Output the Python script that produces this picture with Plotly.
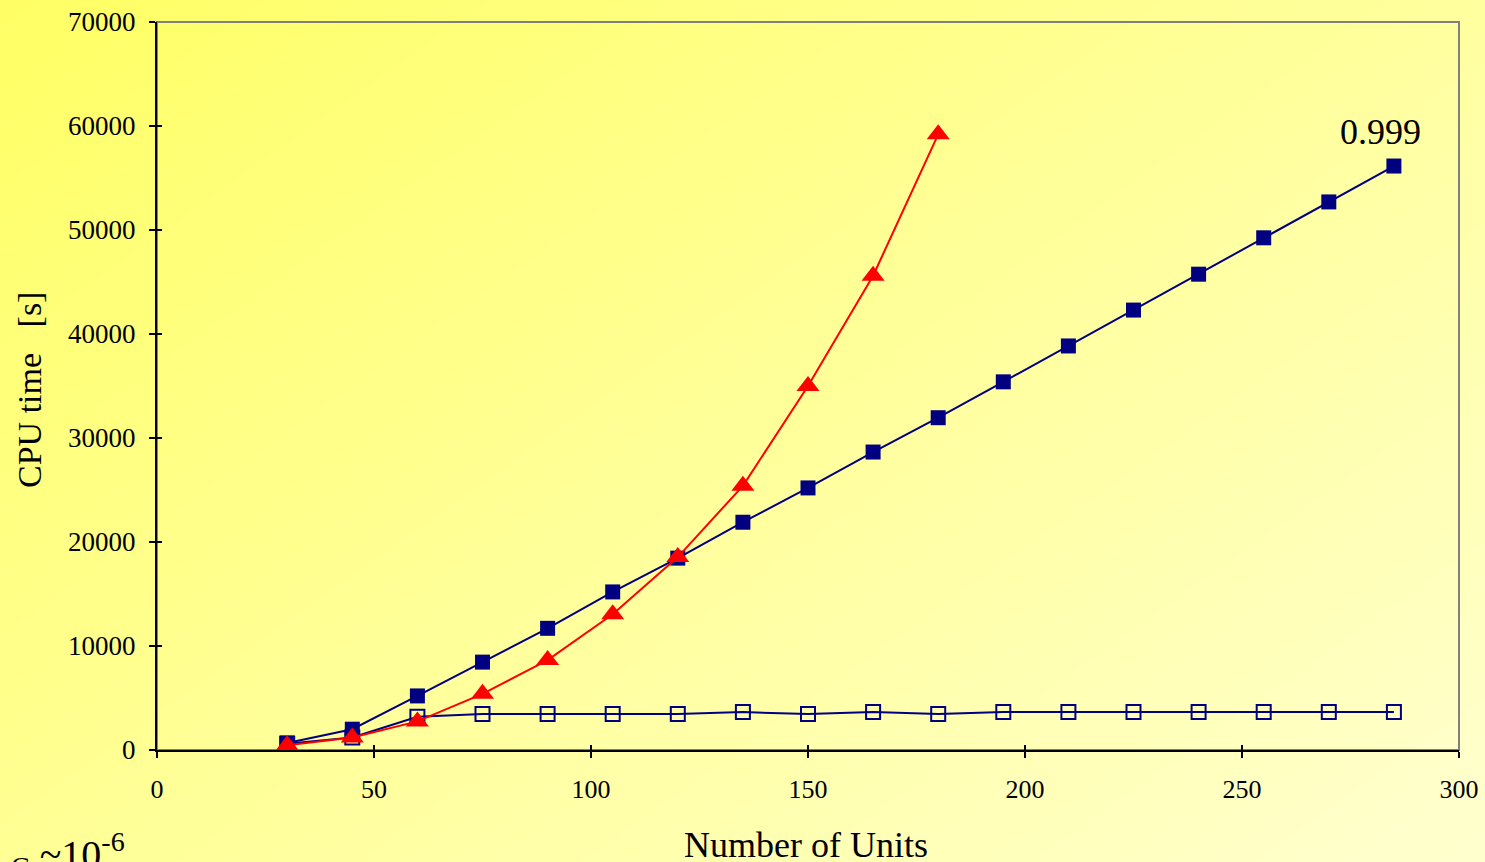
import plotly.graph_objects as go

units = [30, 45, 60, 75, 90, 105, 120, 135, 150, 165, 180, 195, 210, 225, 240, 255, 270, 285]
cpu_filled = [680, 2000, 5200, 8450, 11700, 15200, 18450, 21900, 25200, 28650, 31950, 35400, 38850, 42300, 45750, 49250, 52700, 56150]
units_tri = [30, 45, 60, 75, 90, 105, 120, 135, 150, 165, 180]
cpu_tri = [450, 1200, 2750, 5400, 8650, 13050, 18550, 25400, 35000, 45600, 59200]
cpu_open = [600, 1200, 3200, 3450, 3450, 3450, 3450, 3650, 3450, 3650, 3450, 3650, 3650, 3650, 3650, 3650, 3650, 3650]

x_ticks = [0, 50, 100, 150, 200, 250, 300]
y_ticks = [0, 10000, 20000, 30000, 40000, 50000, 60000, 70000]

label_text = "0.999"
x_title = "Number of Units"
y_title = "CPU\u00a0time\u00a0\u00a0\u00a0[s]"
note_text = "<sub>C</sub> ~10<sup>-6</sup>"

W, H = 1485, 862
L, R, T, B = 157, 1459, 22, 750
PW, PH = R - L, B - T

FONT = "Liberation Serif, Times New Roman, serif"


def to_paper(X, Y):
    return (X - L) / PW, (B - Y) / PH


# diagonal gradient background (top-left saturated -> bottom-right pale)
shapes = []
N = 60
a, b = 0.55, 0.45
c0, c1 = 100, 207


def line_pts(t):
    p = []
    for s in (-5.0, 5.0):
        Yn = (t - a * s) / b
        p.append((s * W, Yn * H))
    return p


for i in range(N):
    t0 = i / N
    t1 = (i + 1) / N
    tm = (t0 + t1) / 2
    blue = int(round(c0 + (c1 - c0) * tm))
    col = f"rgb(255,255,{blue})"
    p0 = line_pts(-3 if i == 0 else t0 - 0.002)
    p1 = line_pts(4 if i == N - 1 else t1 + 0.002)
    poly = [p0[0], p0[1], p1[1], p1[0]]
    path = "M " + " L ".join(f"{to_paper(X, Y)[0]:.5f},{to_paper(X, Y)[1]:.5f}" for X, Y in poly) + " Z"
    shapes.append(dict(type="path", xref="paper", yref="paper", path=path,
                       fillcolor=col, line=dict(width=0), layer="below"))

# gray frame (top/right)
shapes.append(dict(type="rect", xref="paper", yref="paper", x0=0, y0=0, x1=1, y1=1,
                   line=dict(color="#808080", width=2), fillcolor="rgba(0,0,0,0)", layer="below"))

fig = go.Figure()
fig.add_trace(go.Scatter(x=units, y=cpu_open, mode="lines+markers",
                         line=dict(color="#000080", width=2),
                         marker=dict(symbol="square-open", size=14, color="#000080", line=dict(width=2)),
                         showlegend=False))
fig.add_trace(go.Scatter(x=units, y=cpu_filled, mode="lines+markers",
                         line=dict(color="#000080", width=2),
                         marker=dict(symbol="square", size=15, color="#000080"),
                         showlegend=False))
fig.add_trace(go.Scatter(x=units_tri, y=cpu_tri, mode="lines+markers",
                         line=dict(color="#ff0000", width=2),
                         marker=dict(symbol="triangle-up", size=20, color="#ff0000"),
                         showlegend=False))

fig.update_layout(
    width=W, height=H,
    autosize=False,
    margin=dict(l=L, r=W - R, t=T, b=H - B, pad=0, autoexpand=False),
    paper_bgcolor="rgb(255,255,160)",
    plot_bgcolor="rgba(0,0,0,0)",
    font=dict(family=FONT, color="black"),
    shapes=shapes,
    xaxis=dict(range=[0, 300], tickvals=x_ticks, ticktext=[str(v) for v in x_ticks],
               automargin=False,
               showgrid=False, zeroline=False, showline=True, linecolor="black", linewidth=2,
               ticks="outside", ticklen=6, tickwidth=2, tickcolor="black",
               tickfont=dict(size=26, family=FONT), ticklabelstandoff=9),
    yaxis=dict(range=[0, 70000], tickvals=y_ticks, ticktext=[str(v) for v in y_ticks],
               automargin=False,
               showgrid=False, zeroline=False, showline=True, linecolor="black", linewidth=2,
               ticks="outside", ticklen=6, tickwidth=2, tickcolor="black",
               tickfont=dict(size=27, family=FONT), ticklabelstandoff=8),
    xaxis2=dict(range=[0, 300], tickvals=x_ticks, overlaying="x", automargin=False,
                anchor="y", side="bottom", showgrid=False, zeroline=False, showline=False,
                ticks="inside", ticklen=5, tickwidth=2, tickcolor="black", showticklabels=False),
    yaxis2=dict(range=[0, 70000], tickvals=y_ticks, overlaying="y", automargin=False,
                anchor="x", side="left", showgrid=False, zeroline=False, showline=False,
                ticks="inside", ticklen=5, tickwidth=2, tickcolor="black", showticklabels=False),
    annotations=[
        dict(x=282, y=59400, xref="x", yref="y", text=label_text, showarrow=False,
             xanchor="center", yanchor="middle",
             font=dict(size=36, family=FONT, color="black")),
        dict(x=to_paper(806, 0)[0], y=to_paper(0, 845)[1], xref="paper", yref="paper", text=x_title,
             xanchor="center", yanchor="middle",
             showarrow=False, font=dict(size=36, family=FONT, color="black")),
        dict(x=to_paper(29, 0)[0], y=to_paper(0, 390)[1], xref="paper", yref="paper",
             xanchor="center", yanchor="middle",
             text=y_title, textangle=-90, showarrow=False,
             font=dict(size=34, family=FONT, color="black")),
        dict(x=to_paper(9, 0)[0], y=to_paper(0, 884)[1], xref="paper", yref="paper",
             xanchor="left", yanchor="bottom",
             text=note_text, showarrow=False,
             font=dict(size=40, family=FONT, color="black")),
    ],
)
# invisible helper trace so the overlay tick axes render
fig.add_trace(go.Scatter(x=[0], y=[0], xaxis="x2", yaxis="y2", mode="markers",
                         marker=dict(opacity=0), showlegend=False, hoverinfo="skip"))

fig.write_html("out.html", config=dict(displayModeBar=False),
               post_script="document.body.style.margin='0';document.body.style.padding='0';")
